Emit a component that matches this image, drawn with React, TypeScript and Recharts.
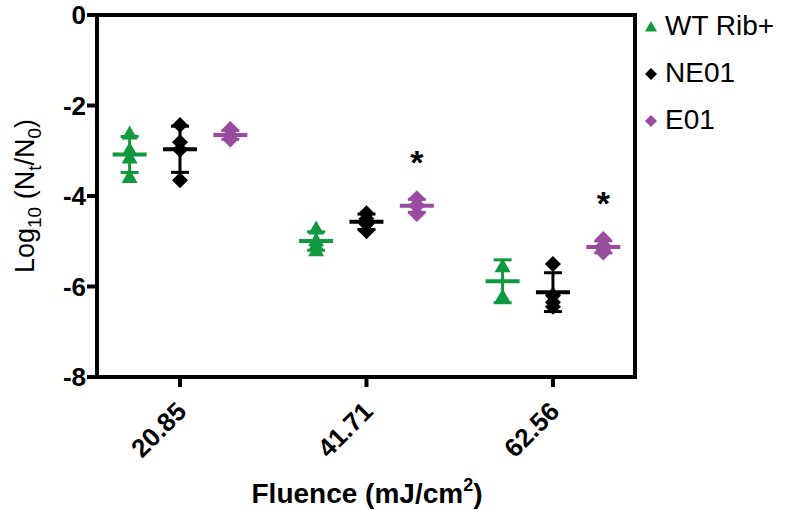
import { ScatterChart, Scatter, XAxis, YAxis, ErrorBar, ReferenceArea, Label } from "recharts"

const categories = ["20.85", "41.71", "62.56"]
const seriesNames = ["WT Rib+", "NE01", "E01"]
const wtRib = [
  [-2.62, -2.98, -3.15, -3.58],
  [-4.72, -4.98, -5.08, -5.2],
  [-5.55, -6.22],
]
const ne01 = [
  [-2.43, -2.81, -2.98, -3.65],
  [-4.38, -4.5, -4.62, -4.78],
  [-5.5, -6.2, -6.35, -6.45],
]
const e01 = [
  [-2.52, -2.65, -2.68, -2.75],
  [-4.05, -4.2, -4.22, -4.4],
  [-4.95, -5.1, -5.2, -5.25],
]
// * = significant vs NE01
const significant = [false, true, true]
const yTicks = [0, -2, -4, -6, -8]

const X_DOMAIN = [-0.445, 2.44]
const Y_DOMAIN = [-8, 0]

const series = [
  { name: seriesNames[0], values: wtRib, color: "#10993f", shape: "triangle", offset: -0.27 },
  { name: seriesNames[1], values: ne01, color: "#000000", shape: "diamond", offset: 0 },
  { name: seriesNames[2], values: e01, color: "#994c9f", shape: "diamond", offset: 0.27 },
]

const mean = (a: number[]) => a.reduce((s, v) => s + v, 0) / a.length
const sd = (a: number[]) => {
  const m = mean(a)
  return Math.sqrt(a.reduce((s, v) => s + (v - m) ** 2, 0) / (a.length - 1))
}

const marker = (shape: string, color: string, r: number) => (props: any) => {
  const { cx, cy } = props
  const pts =
    shape === "triangle"
      ? `${cx},${cy - r} ${cx + r},${cy + r * 0.75} ${cx - r},${cy + r * 0.75}`
      : `${cx},${cy - r} ${cx + r},${cy} ${cx},${cy + r} ${cx - r},${cy}`
  return <polygon points={pts} fill={color} />
}

const meanBar = (color: string) => (props: any) => {
  const { cx, cy } = props
  return <line x1={cx - 17} x2={cx + 17} y1={cy} y2={cy} stroke={color} strokeWidth={4} />
}

const star = (props: any) => (
  <text x={props.cx} y={props.cy + 18} textAnchor="middle" fontSize={34} fontWeight="bold" fill="#000">
    *
  </text>
)

function XTick({ x, y, payload }: any) {
  const px = x + 8
  const py = y + 24
  return (
    <text
      x={px}
      y={py}
      transform={`rotate(-45, ${px}, ${py})`}
      textAnchor="end"
      fontSize={26}
      fontWeight="bold"
      fill="#000"
    >
      {categories[payload.value]}
    </text>
  )
}

function LegendBox() {
  return (
    <div
      style={{
        position: "absolute",
        left: 641,
        top: 2,
        fontFamily: "Liberation Sans, Arial, sans-serif",
        fontSize: 28,
        color: "#000",
      }}
    >
      {series.map((s) => (
        <div key={s.name} style={{ display: "flex", alignItems: "center", height: 47 }}>
          <svg width={20} height={20} style={{ marginRight: 4 }}>
            {marker(s.shape, s.color, 6)({ cx: 10, cy: 11 })}
          </svg>
          <span>{s.name}</span>
        </div>
      ))}
    </div>
  )
}

export default function App() {
  const stars = significant
    .map((sig, i) => (sig ? { x: i + series[2].offset, y: Math.max(...e01[i]) + 0.93 } : null))
    .filter(Boolean)

  return (
    <div style={{ position: "absolute", left: 0, top: 0, width: 800, height: 510, fontFamily: "Liberation Sans, Arial, sans-serif" }}>
      <ScatterChart width={800} height={510} margin={{ top: 15, right: 165, bottom: 53, left: 0 }}>
        <XAxis
          type="number"
          dataKey="x"
          domain={X_DOMAIN}
          ticks={[0, 1, 2]}
          tick={<XTick />}
          tickSize={10}
          height={80}
          axisLine={{ stroke: "#000", strokeWidth: 4 }}
          tickLine={{ stroke: "#000", strokeWidth: 4 }}
        >
          <Label
            content={() => (
              <text x={367} y={503} textAnchor="middle" fontSize={28} fontWeight="bold" fill="#000">
                Fluence (mJ/cm<tspan dy={-12} fontSize={18}>2</tspan>
                <tspan dy={12}>)</tspan>
              </text>
            )}
          />
        </XAxis>
        <YAxis
          type="number"
          dataKey="y"
          domain={Y_DOMAIN}
          ticks={yTicks}
          width={97}
          tickSize={10}
          tickMargin={1}
          tick={{ fill: "#000", fontSize: 26, fontWeight: "bold" }}
          axisLine={{ stroke: "#000", strokeWidth: 4 }}
          tickLine={{ stroke: "#000", strokeWidth: 4 }}
        >
          <Label
            content={() => (
              <text x={34} y={196} transform="rotate(-90, 34, 196)" textAnchor="middle" fontSize={27} fill="#000">
                Log<tspan dy={7} fontSize={19}>10</tspan>
                <tspan dy={-7}> (N</tspan>
                <tspan dy={7} fontSize={19}>t</tspan>
                <tspan dy={-7}>/N</tspan>
                <tspan dy={7} fontSize={19}>0</tspan>
                <tspan dy={-7}>)</tspan>
              </text>
            )}
          />
        </YAxis>
        <ReferenceArea
          x1={X_DOMAIN[0]}
          x2={X_DOMAIN[1]}
          y1={Y_DOMAIN[0]}
          y2={Y_DOMAIN[1]}
          fill="none"
          fillOpacity={0}
          stroke="#000"
          strokeWidth={4}
          strokeOpacity={1}
        />

        {series.map((s) => (
          <Scatter
            key={s.name}
            name={s.name}
            data={s.values.flatMap((vals, i) => vals.map((v) => ({ x: i + s.offset, y: v })))}
            shape={marker(s.shape, s.color, 8)}
            fill={s.color}
            isAnimationActive={false}
          />
        ))}
        {series.map((s) => (
          <Scatter
            key={s.name + "-mean"}
            name={s.name + " mean"}
            data={s.values.map((vals, i) => ({ x: i + s.offset, y: mean(vals), err: sd(vals) }))}
            shape={meanBar(s.color)}
            fill={s.color}
            isAnimationActive={false}
          >
            <ErrorBar dataKey="err" direction="y" width={9} stroke={s.color} strokeWidth={3} isAnimationActive={false} />
          </Scatter>
        ))}
        <Scatter name="sig" data={stars} shape={star} isAnimationActive={false} />
      </ScatterChart>
      <LegendBox />
    </div>
  )
}
